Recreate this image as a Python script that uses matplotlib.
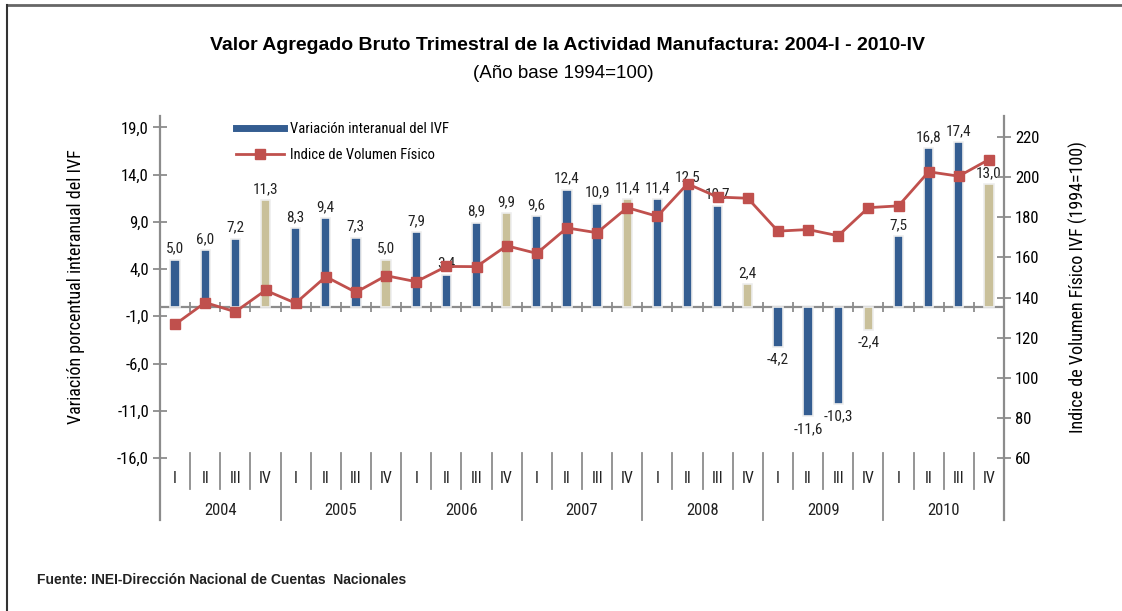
import matplotlib
matplotlib.use("Agg")
import matplotlib.pyplot as plt
import matplotlib.transforms as mtransforms
from matplotlib.lines import Line2D
import numpy as np

years = ["2004", "2005", "2006", "2007", "2008", "2009", "2010"]
quarters = ["I", "II", "III", "IV"]

# variacion interanual del IVF (%), 4 quarters per year
var_ivf = [5.0, 6.0, 7.2, 11.3,
           8.3, 9.4, 7.3, 5.0,
           7.9, 3.4, 8.9, 9.9,
           9.6, 12.4, 10.9, 11.4,
           11.4, 12.5, 10.7, 2.4,
           -4.2, -11.6, -10.3, -2.4,
           7.5, 16.8, 17.4, 13.0]

# indice de volumen fisico (1994=100)
ivf = [126.6, 137.5, 132.9, 143.6,
       137.2, 150.4, 142.6, 150.9,
       147.9, 155.5, 155.4, 165.8,
       162.0, 174.7, 172.3, 184.8,
       180.5, 196.7, 190.1, 189.5,
       173.1, 173.9, 170.8, 184.8,
       185.7, 202.7, 200.5, 208.8]

left_ticks = [-16, -11, -6, -1, 4, 9, 14, 19]
right_ticks = [60, 80, 100, 120, 140, 160, 180, 200, 220]

BLUE = "#345D91"
TAN = "#C9C09A"
RED = "#C0504D"
AXC = "#8C8C8C"
NARROW = ["Liberation Sans Narrow", "DejaVu Sans Condensed", "Roboto Condensed",
          "Liberation Sans", "DejaVu Sans"]
SANS = ["Liberation Sans", "DejaVu Sans"]


def main():
    W, H = 1122, 611
    fig = plt.figure(figsize=(W / 100, H / 100), dpi=100)
    ax = fig.add_axes([160 / W, 1 - 458 / H, 844 / W, 342 / H])
    ax2 = ax.twinx()

    n = len(var_ivf)
    x = np.arange(n)
    colors = [TAN if i % 4 == 3 else BLUE for i in range(n)]
    ax.bar(x, var_ivf, width=0.31, color=colors, edgecolor="#EEEEEE",
           linewidth=1.2, zorder=2)
    for xi, v in zip(x, var_ivf):
        lab = ("%.1f" % v).replace(".", ",")
        off = 3 if v >= 0 else -4
        ax.annotate(lab, (xi, v), xytext=(0, off), textcoords="offset points",
                    ha="center", va="bottom" if v >= 0 else "top",
                    fontsize=11, family=NARROW, color="#222222", zorder=3)

    ax.set_xlim(-0.5, n - 0.5)
    ax.set_ylim(-16, 20.2)
    ax2.set_ylim(60, 230.5)
    ax2.plot(x, ivf, color=RED, lw=2, marker="s", ms=7.5,
             markerfacecolor=RED, markeredgecolor=RED)

    # zero line with category ticks
    ax.axhline(0, color=AXC, lw=1.6, zorder=1)
    ax.vlines(np.arange(n - 1) + 0.5, -0.55, 0.55, color=AXC, lw=1.3)

    for a, ticks, side in ((ax, left_ticks, "left"), (ax2, right_ticks, "right")):
        for s in a.spines.values():
            s.set_visible(False)
        a.spines[side].set_visible(True)
        a.spines[side].set_color(AXC)
        a.spines[side].set_linewidth(1.6)
        a.set_yticks(ticks)
        a.tick_params(axis="y", direction="inout", length=10, width=1.3,
                      color=AXC, labelsize=12, pad=3)
        for t in a.get_yticklabels():
            t.set_family(NARROW)
    ax.set_yticklabels([("%.1f" % t).replace(".", ",") for t in left_ticks])
    ax.set_xticks([])
    ax2.set_xticks([])

    # two-level category axis drawn below the plot
    tr = mtransforms.blended_transform_factory(ax.transData, ax.transAxes)
    for side_x in (-0.5, n - 0.5):
        ax.plot([side_x, side_x], [0, -0.181], transform=tr, color=AXC,
                lw=1.6, clip_on=False)
    for i in range(1, n):
        y0 = -0.181 if i % 4 == 0 else -0.0906
        ax.plot([i - 0.5, i - 0.5], [0.0146, y0], transform=tr, color=AXC,
                lw=1.3, clip_on=False)
    for i in range(n):
        ax.text(i, -0.0614, quarters[i % 4], transform=tr, ha="center",
                va="center", fontsize=11.5, family=NARROW, color="#222222")
    for j, yr in enumerate(years):
        ax.text(4 * j + 1.5, -0.154, yr, transform=tr, ha="center",
                va="center", fontsize=12, family=NARROW, color="#222222")

    ax.set_ylabel("Variación porcentual interanual del IVF", fontsize=13,
                  family=NARROW)
    ax.yaxis.set_label_coords((85 - 160) / 844, 0.5)
    ax2.set_ylabel("Indice de Volumen Físico IVF (1994=100)", fontsize=13,
                   family=NARROW)
    ax2.yaxis.set_label_coords((1069 - 160) / 844, 0.5)

    handles = [Line2D([], [], color=BLUE, lw=5),
               Line2D([], [], color=RED, lw=2, marker="s", ms=7.5)]
    fig.legend(handles, ["Variación interanual del IVF", "Indice de Volumen Físico"],
               loc="upper left", bbox_to_anchor=(236 / W, 1 - 122 / H),
               frameon=False, borderpad=0, borderaxespad=0, handlelength=3.3,
               handletextpad=0.4, labelspacing=0.85,
               prop={"family": NARROW, "size": 10.5})

    fig.text(567 / W, 1 - 45 / H,
             "Valor Agregado Bruto Trimestral de la Actividad Manufactura: 2004-I - 2010-IV",
             ha="center", va="center", fontsize=14, fontweight="bold", family=SANS)
    fig.text(563 / W, 1 - 73 / H, "(Año base 1994=100)", ha="center",
             va="center", fontsize=13.5, family=SANS)
    fig.text(37 / W, 1 - 580 / H, "Fuente: INEI-Dirección Nacional de Cuentas  Nacionales",
             ha="left", va="center", fontsize=10, fontweight="bold", family=SANS,
             color="#222222")

    # outer frame (top and left edges)
    fig.add_artist(Line2D([7 / W, 1], [1 - 5 / H, 1 - 5 / H], color="#666666", lw=2))
    fig.add_artist(Line2D([7 / W, 7 / W], [0, 1 - 5 / H], color="#333333", lw=1.5))

    fig.savefig("out.png", dpi=100)
    plt.close(fig)


if __name__ == "__main__":
    main()
